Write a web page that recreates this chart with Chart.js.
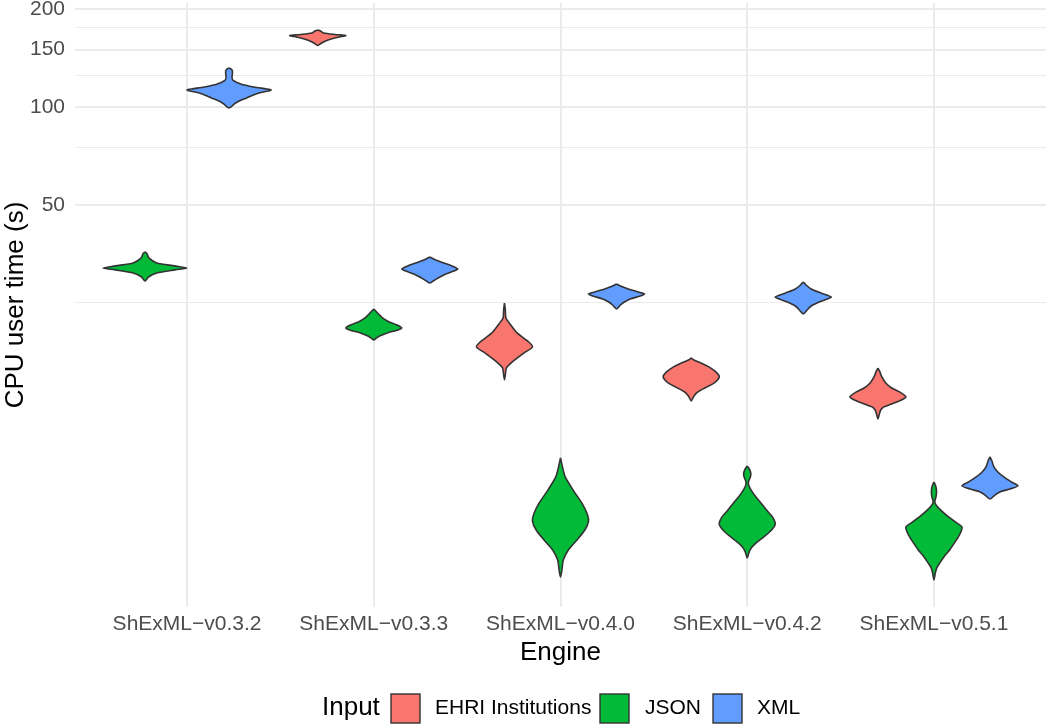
<!DOCTYPE html>
<html>
<head>
<meta charset="utf-8">
<style>
  html, body { margin: 0; padding: 0; background: #fff; }
</style>
</head>
<body>
<canvas id="myChart" width="1048" height="725"></canvas>
<script src="https://cdn.jsdelivr.net/npm/chart.js@4.4.1/dist/chart.umd.min.js"></script>
<script>
// categories
const engines = ['ShExML\u2212v0.3.2', 'ShExML\u2212v0.3.3', 'ShExML\u2212v0.4.0', 'ShExML\u2212v0.4.2', 'ShExML\u2212v0.5.1'];
const inputs = ['EHRI Institutions', 'JSON', 'XML'];

// y axis ticks (log scale): labelled majors + unlabelled minors
const yTicks = [25, 50, 75, 100, 125, 150, 175, 200];
const yLabels = [50, 100, 150, 200];

// violins: CPU user time (s) from top to bottom, with relative density (0..1)
const v032JsonTime = [35.9, 35.4, 34.4, 33.2, 32.5, 32.0, 31.6, 30.9, 30.1, 29.2];
const v032JsonDens = [0, 0.05, 0.09, 0.28, 0.71, 1, 0.71, 0.28, 0.09, 0];
const v032XmlTime = [131.8, 130.8, 129.0, 126.3, 123.6, 121.0, 117.7, 115.2, 113.6, 112.8, 112.0, 110.4, 108.1, 106.6, 104.3, 102.1, 100.0, 99.3];
const v032XmlDens = [0, 0.05, 0.08, 0.08, 0.07, 0.09, 0.28, 0.59, 0.89, 1, 0.94, 0.71, 0.52, 0.42, 0.24, 0.12, 0.05, 0];

const v033EhriTime = [172.4, 171.2, 168.8, 167.0, 165.8, 164.1, 161.7, 159.5, 157.2, 154.5];
const v033EhriDens = [0, 0.1, 0.21, 0.62, 1, 0.76, 0.48, 0.28, 0.14, 0];
const v033JsonTime = [23.97, 23.63, 23.14, 22.49, 21.86, 21.41, 20.96, 20.66, 20.23, 19.81, 19.53, 19.25];
const v033JsonDens = [0, 0.07, 0.17, 0.31, 0.55, 0.83, 1, 0.86, 0.48, 0.21, 0.1, 0];
const v033XmlTime = [34.62, 34.37, 33.89, 33.18, 32.49, 31.80, 31.35, 30.70, 30.06, 29.43, 28.81];
const v033XmlDens = [0, 0.07, 0.21, 0.5, 0.79, 1, 0.86, 0.57, 0.36, 0.18, 0];

const v040EhriTime = [25.00, 23.80, 22.49, 21.71, 20.23, 18.98, 18.32, 17.56, 16.48, 15.79, 15.03, 14.51];
const v040EhriDens = [0, 0.03, 0.05, 0.17, 0.45, 0.87, 1, 0.7, 0.28, 0.07, 0.03, 0];
const v040JsonTime = [8.36, 7.84, 7.31, 6.66, 6.08, 5.66, 5.35, 5.02, 4.68, 4.36, 4.06, 3.78, 3.60];
const v040JsonDens = [0, 0.07, 0.17, 0.45, 0.76, 0.94, 1, 0.87, 0.59, 0.28, 0.1, 0.05, 0];
const v040XmlTime = [28.61, 28.20, 27.61, 27.03, 26.65, 26.27, 25.72, 25.18, 24.65, 23.97];
const v040XmlDens = [0, 0.14, 0.42, 0.78, 1, 0.85, 0.49, 0.28, 0.14, 0];

const v042EhriTime = [16.95, 16.71, 16.36, 15.91, 15.46, 15.03, 14.82, 14.51, 14.11, 13.71, 13.33, 12.96, 12.51];
const v042EhriDens = [0, 0.1, 0.35, 0.63, 0.84, 0.98, 1, 0.94, 0.77, 0.49, 0.24, 0.1, 0];
const v042JsonTime = [7.90, 7.68, 7.46, 7.25, 7.10, 6.90, 6.66, 6.34, 6.08, 5.78, 5.51, 5.24, 5.02, 4.78, 4.61, 4.45, 4.30, 4.12];
const v042JsonDens = [0, 0.09, 0.13, 0.1, 0.05, 0.05, 0.14, 0.31, 0.49, 0.69, 0.9, 1, 0.87, 0.59, 0.35, 0.17, 0.07, 0];
const v042XmlTime = [29.01, 28.40, 27.61, 26.84, 26.09, 25.54, 25.00, 24.48, 23.80, 23.14];
const v042XmlDens = [0, 0.1, 0.28, 0.63, 1, 0.76, 0.49, 0.28, 0.14, 0];

const v051EhriTime = [15.79, 15.36, 14.82, 14.20, 13.71, 13.33, 12.87, 12.59, 12.24, 11.99, 11.73, 11.40, 11.01];
const v051EhriDens = [0, 0.07, 0.14, 0.28, 0.49, 0.77, 1, 0.84, 0.49, 0.21, 0.1, 0.05, 0];
const v051JsonTime = [7.05, 6.90, 6.66, 6.39, 6.12, 5.95, 5.74, 5.51, 5.31, 5.13, 4.95, 4.78, 4.58, 4.36, 4.18, 3.98, 3.84, 3.71, 3.53];
const v051JsonDens = [0, 0.05, 0.09, 0.08, 0.03, 0.1, 0.28, 0.52, 0.77, 1, 0.96, 0.87, 0.73, 0.56, 0.38, 0.21, 0.1, 0.05, 0];
const v051XmlTime = [8.42, 8.18, 7.84, 7.57, 7.31, 7.05, 6.86, 6.71, 6.57, 6.43, 6.25];
const v051XmlDens = [0, 0.07, 0.14, 0.28, 0.49, 0.77, 1, 0.7, 0.35, 0.18, 0];

// engine index, input index, times, densities
const violins = [
  [0, 1, v032JsonTime, v032JsonDens],
  [0, 2, v032XmlTime, v032XmlDens],
  [1, 0, v033EhriTime, v033EhriDens],
  [1, 1, v033JsonTime, v033JsonDens],
  [1, 2, v033XmlTime, v033XmlDens],
  [2, 0, v040EhriTime, v040EhriDens],
  [2, 1, v040JsonTime, v040JsonDens],
  [2, 2, v040XmlTime, v040XmlDens],
  [3, 0, v042EhriTime, v042EhriDens],
  [3, 1, v042JsonTime, v042JsonDens],
  [3, 2, v042XmlTime, v042XmlDens],
  [4, 0, v051EhriTime, v051EhriDens],
  [4, 1, v051JsonTime, v051JsonDens],
  [4, 2, v051XmlTime, v051XmlDens]
];

const fillColors = ['#F8766D', '#00BA38', '#619CFF'];
const outline = '#333333';
const FONT = "'Liberation Sans', Arial, Helvetica, sans-serif";
Chart.defaults.font.family = FONT;

// ggplot style dodge: 0.9 wide per engine split between the inputs present
function outlinePoints(engineIdx, inputIdx, times, dens) {
  const present = violins.filter(v => v[0] === engineIdx).map(v => v[1]).sort();
  const n = present.length;
  const slot = 0.9 / n;
  const k = present.indexOf(inputIdx);
  const cx = engineIdx + 1 - 0.45 + slot * (k + 0.5);
  const hw = slot / 2;
  const pts = [];
  for (let i = 0; i < times.length; i++) {
    pts.push({x: cx + dens[i] * hw, y: times[i]});
  }
  for (let i = times.length - 2; i >= 1; i--) {
    pts.push({x: cx - dens[i] * hw, y: times[i]});
  }
  pts.push({x: cx, y: times[0]});
  return pts;
}

const datasets = violins.map(v => ({
  label: engines[v[0]] + ' / ' + inputs[v[1]],
  data: outlinePoints(v[0], v[1], v[2], v[3]),
  backgroundColor: fillColors[v[1]],
  borderColor: outline,
  borderWidth: 1.6,
  fill: 'shape',
  pointRadius: 0,
  tension: 0.25
}));

// legend drawn ggplot-like: title on the left, keys in a row
const inputLegend = {
  id: 'inputLegend',
  afterDraw(chart) {
    const ctx = chart.ctx;
    ctx.save();
    ctx.textBaseline = 'middle';
    ctx.textAlign = 'left';
    ctx.fillStyle = '#000';
    ctx.font = '26px ' + FONT;
    ctx.fillText('Input', 322, 708);
    const boxX = [391, 600, 713];
    const textX = [435, 645, 757];
    ctx.font = '21px ' + FONT;
    inputs.forEach((name, i) => {
      ctx.fillStyle = fillColors[i];
      ctx.fillRect(boxX[i], 694, 29, 29);
      ctx.strokeStyle = outline;
      ctx.lineWidth = 1.4;
      ctx.strokeRect(boxX[i], 694, 29, 29);
      ctx.fillStyle = '#000';
      ctx.fillText(name, textX[i], 708);
    });
    ctx.restore();
  }
};

const ctx = document.getElementById('myChart');
new Chart(ctx, {
  type: 'line',
  data: { datasets: datasets },
  options: {
    responsive: false,
    animation: false,
    devicePixelRatio: 1,
    layout: { padding: { top: 3, right: 2, left: 0, bottom: 50 } },
    plugins: {
      legend: { display: false },
      tooltip: { enabled: false }
    },
    scales: {
      x: {
        type: 'linear',
        min: 0.4,
        max: 5.6,
        bounds: 'data',
        afterBuildTicks: s => { s.ticks = engines.map((e, i) => ({ value: i + 1 })); },
        afterFit: s => { s.height = 68; s.paddingLeft = 0; s.paddingRight = 0; },
        ticks: {
          autoSkip: false,
          maxRotation: 0,
          padding: 5,
          color: '#4d4d4d',
          font: { size: 21 },
          callback: v => engines[v - 1] || ''
        },
        grid: { color: '#ebebeb', lineWidth: 2, drawTicks: false },
        border: { display: false },
        title: {
          display: true,
          text: 'Engine',
          color: '#000',
          font: { size: 26 },
          padding: { top: 0, bottom: 7 }
        }
      },
      y: {
        type: 'logarithmic',
        min: 2.913,
        max: 208.6,
        bounds: 'data',
        afterBuildTicks: s => { s.ticks = yTicks.map(v => ({ value: v })); },
        afterFit: s => { s.width = 75; s.paddingTop = 0; s.paddingBottom = 0; },
        ticks: {
          autoSkip: false,
          padding: 10,
          color: '#4d4d4d',
          font: { size: 21 },
          callback: v => yLabels.includes(v) ? String(v) : ''
        },
        grid: {
          color: '#ebebeb',
          drawTicks: false,
          lineWidth: c => (c.tick && yLabels.includes(c.tick.value)) ? 2 : 1.1
        },
        border: { display: false },
        title: {
          display: true,
          text: 'CPU user time (s)',
          color: '#000',
          font: { size: 26 },
          padding: { top: 0, bottom: 0 }
        }
      }
    }
  },
  plugins: [inputLegend]
});
</script>
</body>
</html>
